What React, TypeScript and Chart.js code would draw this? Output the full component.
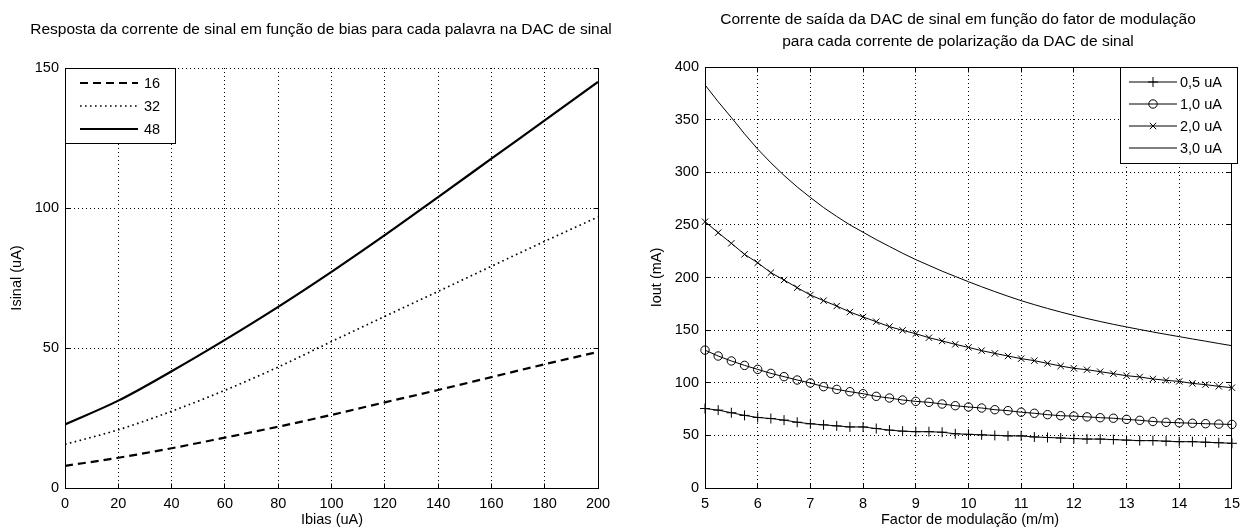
import React, { useEffect, useRef } from 'react';
import { Chart, registerables } from 'chart.js';

Chart.register(...registerables);

const FONT = '"Liberation Sans", Arial, Helvetica, sans-serif';

// ---- Left panel: signal current versus bias current, one curve per DAC word ----
const biasCurrent = [0, 20, 40, 60, 80, 100, 120, 140, 160, 180, 200];
const isinalWord16 = [7.9, 10.8, 14.2, 18.0, 21.9, 26.1, 30.6, 35.0, 39.6, 44.2, 48.6];
const isinalWord32 = [15.6, 20.8, 27.4, 34.9, 43.2, 52.3, 61.3, 70.2, 79.2, 88.1, 96.8];
const isinalWord48 = [22.7, 31.2, 41.7, 52.9, 64.7, 77.2, 90.3, 103.9, 117.6, 131.3, 145.0];
const biasTicks = [0, 20, 40, 60, 80, 100, 120, 140, 160, 180, 200];
const isinalTicks = [0, 50, 100, 150];
const wordLabels = ['16', '32', '48'];

// ---- Right panel: output current versus modulation factor, one curve per bias current ----
const modulationFactor = [
  5, 5.25, 5.5, 5.75, 6, 6.25, 6.5, 6.75, 7, 7.25, 7.5, 7.75, 8, 8.25, 8.5, 8.75, 9, 9.25, 9.5, 9.75,
  10, 10.25, 10.5, 10.75, 11, 11.25, 11.5, 11.75, 12, 12.25, 12.5, 12.75, 13, 13.25, 13.5, 13.75, 14,
  14.25, 14.5, 14.75, 15,
];
const ioutBias05 = [
  75.5, 74, 71.5, 69, 67, 66, 64.5, 62.5, 61, 60, 59, 58, 58, 56.5, 55, 54, 53.5, 53.5, 53, 51.5,
  51, 50.5, 50, 49.5, 49.5, 48.5, 48, 47.5, 47, 46.5, 46.5, 46, 45.5, 45, 45, 44.5, 44, 44, 43.5,
  43, 42.5,
];
const ioutBias10 = [
  131, 125.4, 120.7, 116.5, 112.7, 108.9, 105.8, 102.6, 99.8, 96.3, 93.7, 91.5, 89.6, 87.1, 85.5,
  83.6, 82.3, 81.4, 79.8, 78.2, 77, 76, 74.4, 73.5, 72, 71, 69.7, 68.7, 68.3, 67.6, 66.8, 66.3,
  65.2, 64.3, 63.2, 62.4, 62, 61.5, 61.1, 60.7, 60.4,
];
const ioutBias20 = [
  253, 242.6, 232.5, 222, 214, 204.6, 197.6, 190.3, 183.4, 178, 172.9, 167.2, 162.5, 158, 153.3,
  149.8, 146.6, 142.8, 139.7, 136.5, 133.6, 130.5, 127.9, 125.4, 122.9, 121, 118.4, 115.9, 113.7,
  112.4, 110.5, 108.6, 106.7, 105.5, 103.6, 102.3, 101.3, 99.4, 98.2, 96.6, 95.3,
];
const ioutBias30 = [
  383, 367, 352, 336.5, 322, 309, 297, 286, 276, 266.5, 258, 250, 243, 236, 229.5, 223, 217, 211.5,
  206, 201, 196, 191.2, 186.6, 182.2, 178, 174.2, 170.6, 167.2, 164, 161, 158.2, 155.5, 153, 150.6,
  148.2, 146, 143.8, 141.6, 139.5, 137.3, 135.2,
];
const modulationTicks = [5, 6, 7, 8, 9, 10, 11, 12, 13, 14, 15];
const ioutTicks = [0, 50, 100, 150, 200, 250, 300, 350, 400];
const biasLabels = ['0,5 uA', '1,0 uA', '2,0 uA', '3,0 uA'];

type Marker = 'cross' | 'circle' | 'crossRot' | null;
type LegendEntry = { label: string; width: number; dash: number[]; marker: Marker; radius: number };
type Decor = {
  titleLines: string[];
  titleX: number;
  titleYs: number[];
  xTitle: string;
  xTitleX: number;
  xTitleY: number;
  yTitle: string;
  yTitleX: number;
  solidTop: boolean;
  legend: {
    x: number;
    y: number;
    w: number;
    h: number;
    rows: number[];
    lineX0: number;
    lineX1: number;
    textX: number;
    entries: LegendEntry[];
  };
};

function strokeMarker(ctx: CanvasRenderingContext2D, kind: Marker, x: number, y: number, r: number) {
  if (!kind) return;
  ctx.beginPath();
  if (kind === 'cross') {
    ctx.moveTo(x - r, y);
    ctx.lineTo(x + r, y);
    ctx.moveTo(x, y - r);
    ctx.lineTo(x, y + r);
  } else if (kind === 'crossRot') {
    const d = r * Math.SQRT1_2;
    ctx.moveTo(x - d, y - d);
    ctx.lineTo(x + d, y + d);
    ctx.moveTo(x - d, y + d);
    ctx.lineTo(x + d, y - d);
  } else {
    ctx.arc(x, y, r, 0, Math.PI * 2);
  }
  ctx.stroke();
}

const crisp = (v: number) => Math.round(v) + 0.5;

// Draws the MATLAB-style frame: titles, closed axes box, inward tick marks and the boxed legend.
function decorPlugin(d: Decor) {
  return {
    id: 'panelDecor',
    afterDraw(chart: any) {
      const { ctx, chartArea: a } = chart;
      const xs = chart.scales.x;
      const ys = chart.scales.y;
      ctx.save();
      ctx.setLineDash([]);
      ctx.strokeStyle = '#000';
      ctx.lineWidth = 1;

      const L = crisp(a.left - 0.5);
      const R = crisp(a.right - 0.5);
      const T = crisp(a.top - 0.5);
      const B = crisp(a.bottom - 0.5);

      ctx.beginPath();
      ctx.moveTo(R, T);
      ctx.lineTo(R, B);
      if (d.solidTop) {
        ctx.moveTo(L, T);
        ctx.lineTo(R, T);
      }
      ctx.stroke();

      // inward tick marks
      const tl = 5;
      ctx.beginPath();
      xs.ticks.forEach((t: any) => {
        const px = crisp(xs.getPixelForValue(t.value) - 0.5);
        ctx.moveTo(px, B);
        ctx.lineTo(px, B - tl);
        if (d.solidTop) {
          ctx.moveTo(px, T);
          ctx.lineTo(px, T + tl);
        }
      });
      ys.ticks.forEach((t: any) => {
        const py = crisp(ys.getPixelForValue(t.value) - 0.5);
        ctx.moveTo(L, py);
        ctx.lineTo(L + tl, py);
        ctx.moveTo(R, py);
        ctx.lineTo(R - tl, py);
      });
      ctx.stroke();

      // titles
      ctx.fillStyle = '#000';
      ctx.textAlign = 'center';
      ctx.textBaseline = 'middle';
      ctx.font = `15.5px ${FONT}`;
      d.titleLines.forEach((line, i) => ctx.fillText(line, d.titleX, d.titleYs[i]));
      ctx.font = `14.5px ${FONT}`;
      ctx.fillText(d.xTitle, d.xTitleX, d.xTitleY);
      ctx.save();
      ctx.translate(d.yTitleX, (a.top + a.bottom) / 2);
      ctx.rotate(-Math.PI / 2);
      ctx.fillText(d.yTitle, 0, 0);
      ctx.restore();

      // legend box
      const lg = d.legend;
      ctx.fillStyle = '#fff';
      ctx.fillRect(lg.x, lg.y, lg.w, lg.h);
      ctx.strokeStyle = '#000';
      ctx.lineWidth = 1;
      ctx.strokeRect(crisp(lg.x - 0.5), crisp(lg.y - 0.5), Math.round(lg.w), Math.round(lg.h));
      ctx.textAlign = 'left';
      ctx.fillStyle = '#000';
      ctx.font = `14.5px ${FONT}`;
      lg.entries.forEach((e, i) => {
        const y = lg.rows[i];
        ctx.lineWidth = e.width;
        ctx.setLineDash(e.dash);
        ctx.beginPath();
        ctx.moveTo(lg.lineX0, y);
        ctx.lineTo(lg.lineX1, y);
        ctx.stroke();
        ctx.setLineDash([]);
        ctx.lineWidth = 1;
        strokeMarker(ctx, e.marker, (lg.lineX0 + lg.lineX1) / 2, y, e.radius);
        ctx.fillText(e.label, lg.textX, y + 1);
      });
      ctx.restore();
    },
  };
}

type AxisSpec = { min: number; max: number; ticks: number[] };

function panelOptions(xAxis: AxisSpec, yAxis: AxisSpec, top: number, right: number, yWidth: number, xHeight: number) {
  const tickFont = { family: FONT, size: 14.5 };
  return {
    responsive: false,
    maintainAspectRatio: false,
    animation: false as const,
    devicePixelRatio: 1,
    layout: { padding: { top, right, left: 0, bottom: 0 } },
    plugins: {
      legend: { display: false },
      tooltip: { enabled: false },
      title: { display: false },
    },
    events: [],
    scales: {
      x: {
        type: 'linear' as const,
        min: xAxis.min,
        max: xAxis.max,
        afterBuildTicks: (s: any) => {
          s.ticks = xAxis.ticks.map((value) => ({ value }));
        },
        afterFit: (s: any) => {
          s.height = xHeight;
        },
        ticks: { font: tickFont, color: '#000', padding: 7, maxRotation: 0, autoSkip: false },
        grid: { color: '#000', lineWidth: 1, drawTicks: false },
        border: { display: true, color: '#000', width: 1, dash: [1, 3] },
      },
      y: {
        type: 'linear' as const,
        min: yAxis.min,
        max: yAxis.max,
        afterBuildTicks: (s: any) => {
          s.ticks = yAxis.ticks.map((value) => ({ value }));
        },
        afterFit: (s: any) => {
          s.width = yWidth;
        },
        ticks: { font: tickFont, color: '#000', padding: 6, autoSkip: false },
        grid: { color: '#000', lineWidth: 1, drawTicks: false },
        border: { display: true, color: '#000', width: 1, dash: [1, 3] },
      },
    },
  };
}

const pts = (xs: number[], ys: number[]) => xs.map((x, i) => ({ x, y: ys[i] }));

const CANVAS_H = 531;
const LEFT_W = 640;
const RIGHT_W = 607;

function leftConfig(): any {
  const styles = [
    { width: 2.2, dash: [8, 5] },
    { width: 1.7, dash: [1.6, 3.4] },
    { width: 2.2, dash: [] as number[] },
  ];
  const series = [isinalWord16, isinalWord32, isinalWord48];
  return {
    type: 'line',
    data: {
      datasets: series.map((s, i) => ({
        label: wordLabels[i],
        data: pts(biasCurrent, s),
        borderColor: '#000',
        borderWidth: styles[i].width,
        borderDash: styles[i].dash,
        pointRadius: 0,
        cubicInterpolationMode: 'monotone',
        fill: false,
      })),
    },
    options: panelOptions(
      { min: 0, max: 200, ticks: biasTicks },
      { min: 0, max: 150, ticks: isinalTicks },
      68,
      LEFT_W - 598,
      65,
      CANVAS_H - 488,
    ),
    plugins: [
      decorPlugin({
        titleLines: ['Resposta da corrente de sinal em função de bias para cada palavra na DAC de sinal'],
        titleX: 321,
        titleYs: [30],
        xTitle: 'Ibias (uA)',
        xTitleX: 332,
        xTitleY: 520,
        yTitle: 'Isinal (uA)',
        yTitleX: 17,
        solidTop: false,
        legend: {
          x: 65,
          y: 68,
          w: 110,
          h: 75,
          rows: [83, 106, 129],
          lineX0: 80,
          lineX1: 138,
          textX: 144,
          entries: wordLabels.map((label, i) => ({ label, width: styles[i].width, dash: styles[i].dash, marker: null, radius: 0 })),
        },
      }),
    ],
  };
}

function rightConfig(): any {
  const markers: { kind: Marker; style: string | false; radius: number }[] = [
    { kind: 'cross', style: 'cross', radius: 5 },
    { kind: 'circle', style: 'circle', radius: 4.2 },
    { kind: 'crossRot', style: 'crossRot', radius: 4.5 },
    { kind: null, style: false, radius: 0 },
  ];
  const series = [ioutBias05, ioutBias10, ioutBias20, ioutBias30];
  return {
    type: 'line',
    data: {
      datasets: series.map((s, i) => ({
        label: biasLabels[i],
        data: pts(modulationFactor, s),
        borderColor: '#000',
        borderWidth: 1,
        pointStyle: markers[i].style,
        pointRadius: markers[i].radius,
        pointBorderColor: '#000',
        pointBorderWidth: 1,
        pointBackgroundColor: 'rgba(0,0,0,0)',
        tension: 0,
        fill: false,
        clip: 6,
      })),
    },
    options: panelOptions(
      { min: 5, max: 15, ticks: modulationTicks },
      { min: 0, max: 400, ticks: ioutTicks },
      67,
      RIGHT_W - 597,
      65,
      CANVAS_H - 488,
    ),
    plugins: [
      decorPlugin({
        titleLines: [
          'Corrente de saída da DAC de sinal em função do fator de modulação',
          'para cada corrente de polarização da DAC de sinal',
        ],
        titleX: 318,
        titleYs: [20, 42],
        xTitle: 'Factor de modulação (m/m)',
        xTitleX: 330,
        xTitleY: 520,
        yTitle: 'Iout (mA)',
        yTitleX: 17,
        solidTop: true,
        legend: {
          x: 480,
          y: 67,
          w: 117,
          h: 96,
          rows: [82, 104, 126, 148],
          lineX0: 489,
          lineX1: 537,
          textX: 540,
          entries: biasLabels.map((label, i) => ({ label, width: 1, dash: [], marker: markers[i].kind, radius: markers[i].radius })),
        },
      }),
    ],
  };
}

function Panel({ width, makeConfig }: { width: number; makeConfig: () => any }) {
  const ref = useRef<HTMLCanvasElement | null>(null);
  useEffect(() => {
    if (!ref.current) return;
    const chart = new Chart(ref.current, makeConfig());
    return () => chart.destroy();
  }, [makeConfig]);
  return (
    <canvas
      ref={ref}
      width={width}
      height={CANVAS_H}
      style={{ display: 'block', width, height: CANVAS_H }}
    />
  );
}

export default function App() {
  return (
    <div
      style={{
        position: 'absolute',
        left: 0,
        top: 0,
        width: 1247,
        height: CANVAS_H,
        background: '#fff',
        display: 'flex',
      }}
    >
      <Panel width={LEFT_W} makeConfig={leftConfig} />
      <Panel width={RIGHT_W} makeConfig={rightConfig} />
    </div>
  );
}
